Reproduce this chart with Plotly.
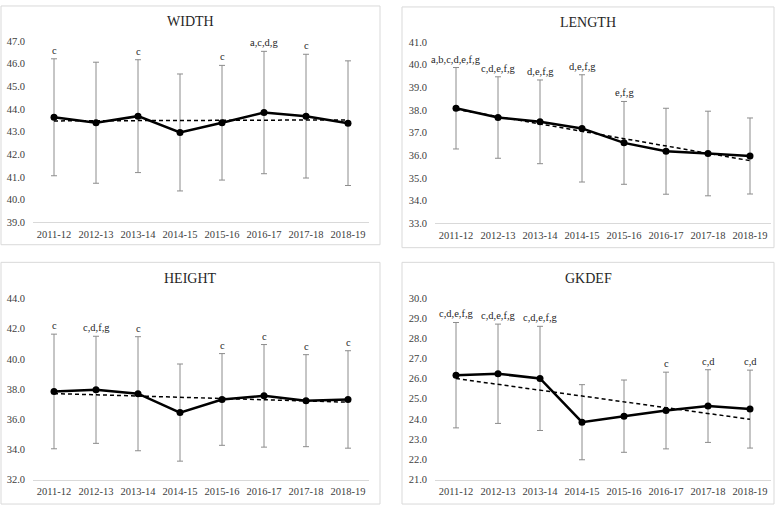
import numpy as np
import plotly.graph_objects as go

seasons = ["2011-12", "2012-13", "2013-14", "2014-15", "2015-16", "2016-17", "2017-18", "2018-19"]

width_mean = [43.63, 43.39, 43.68, 42.96, 43.39, 43.84, 43.68, 43.37]
width_sd = [2.58, 2.67, 2.49, 2.58, 2.53, 2.70, 2.73, 2.75]
width_sig = ["c", "", "c", "", "c", "a,c,d,g", "c", ""]

length_mean = [38.08, 37.67, 37.48, 37.19, 36.55, 36.18, 36.08, 35.97]
length_sd = [1.80, 1.80, 1.85, 2.37, 1.83, 1.90, 1.87, 1.68]
length_sig = ["a,b,c,d,e,f,g", "c,d,e,f,g", "d,e,f,g", "d,e,f,g", "e,f,g", "", "", ""]

height_mean = [37.84, 37.95, 37.69, 36.44, 37.31, 37.55, 37.23, 37.31]
height_sd = [3.80, 3.55, 3.78, 3.22, 3.04, 3.40, 3.05, 3.23]
height_sig = ["c", "c,d,f,g", "c", "", "c", "c", "c", "c"]

gkdef_mean = [26.17, 26.24, 26.01, 23.84, 24.14, 24.42, 24.64, 24.49]
gkdef_sd = [2.61, 2.46, 2.58, 1.86, 1.79, 1.90, 1.80, 1.93]
gkdef_sig = ["c,d,e,f,g", "c,d,e,f,g", "c,d,e,f,g", "", "", "c", "c,d", "c,d"]

W, H = 783, 511
FONT = "Liberation Serif, Times New Roman, serif"

panels = [
    dict(title="WIDTH", mean=width_mean, sd=width_sd, sig=width_sig, yr=[39, 47], dt=1,
         xpx=(33, 369), ypx=(222, 36.7), box=(1, 1, 380, 245), ty=17),
    dict(title="LENGTH", mean=length_mean, sd=length_sd, sig=length_sig, yr=[33, 41], dt=1,
         xpx=(435, 771), ypx=(223, 38), box=(402, 2, 774, 248), ty=18),
    dict(title="HEIGHT", mean=height_mean, sd=height_sd, sig=height_sig, yr=[32, 44], dt=2,
         xpx=(33, 369), ypx=(485, 300), box=(1, 263, 380, 510), ty=280),
    dict(title="GKDEF", mean=gkdef_mean, sd=gkdef_sd, sig=gkdef_sig, yr=[21, 30], dt=1,
         xpx=(435, 771), ypx=(485, 299.3), box=(402, 263, 774, 510), ty=280),
]

fig = go.Figure()
layout = dict(width=W, height=H, margin=dict(l=0, r=0, t=0, b=0),
              paper_bgcolor="white", plot_bgcolor="white", showlegend=False,
              font=dict(family=FONT, size=10.5, color="#595959"))
shapes, annotations = [], []

for i, p in enumerate(panels, start=1):
    xa = "x" if i == 1 else f"x{i}"
    ya = "y" if i == 1 else f"y{i}"
    xkey = "xaxis" if i == 1 else f"xaxis{i}"
    ykey = "yaxis" if i == 1 else f"yaxis{i}"
    idx = np.arange(len(seasons))
    coef = np.polyfit(idx, np.array(p["mean"]), 1)
    trend = np.polyval(coef, idx)

    fig.add_trace(go.Scatter(
        x=seasons, y=p["mean"], mode="lines+markers", xaxis=xa, yaxis=ya,
        line=dict(color="black", width=2.5), marker=dict(color="black", size=7),
        error_y=dict(type="data", array=p["sd"], visible=True, color="#8c8c8c",
                     thickness=1, width=3)))
    fig.add_trace(go.Scatter(
        x=seasons, y=trend, mode="lines", xaxis=xa, yaxis=ya,
        line=dict(color="black", width=1.5, dash="4px,3px")))

    layout[xkey] = dict(domain=[p["xpx"][0] / W, p["xpx"][1] / W], anchor=ya,
                        type="category", range=[-0.5, 7.5], showgrid=False,
                        showline=True, linecolor="#d9d9d9", linewidth=1, ticks="",
                        zeroline=False, ticklabelstandoff=2,
                        tickfont=dict(family=FONT, size=10.5, color="#404040"))
    layout[ykey] = dict(domain=[1 - p["ypx"][0] / H, 1 - p["ypx"][1] / H], anchor=xa,
                        range=p["yr"], dtick=p["dt"], tick0=0, tickformat=".1f",
                        showgrid=False, showline=False, zeroline=False, ticks="",
                        ticklabelstandoff=7,
                        tickfont=dict(family=FONT, size=10.5, color="#404040"))

    x0, y0, x1, y1 = p["box"]
    shapes.append(dict(type="rect", xref="paper", yref="paper",
                       x0=x0 / W, x1=x1 / W, y0=1 - y1 / H, y1=1 - y0 / H,
                       line=dict(color="#d9d9d9", width=1), layer="below"))
    annotations.append(dict(text=p["title"], xref="paper", yref="paper",
                            x=(x0 + x1) / 2 / W, y=1 - p["ty"] / H, showarrow=False,
                            xanchor="center", yanchor="middle",
                            font=dict(family=FONT, size=14, color="#262626")))
    for s, m, sd, lab in zip(seasons, p["mean"], p["sd"], p["sig"]):
        if lab:
            annotations.append(dict(text=lab, xref=xa, yref=ya, x=s, y=m + sd,
                                    showarrow=False, xanchor="center", yanchor="bottom",
                                    yshift=1,
                                    font=dict(family=FONT, size=10.5, color="#262626")))

layout["shapes"] = shapes
layout["annotations"] = annotations
fig.update_layout(**layout)
fig.write_html("out.html", config={"displayModeBar": False},
               post_script="document.body.style.margin='0';document.body.style.padding='0';")
